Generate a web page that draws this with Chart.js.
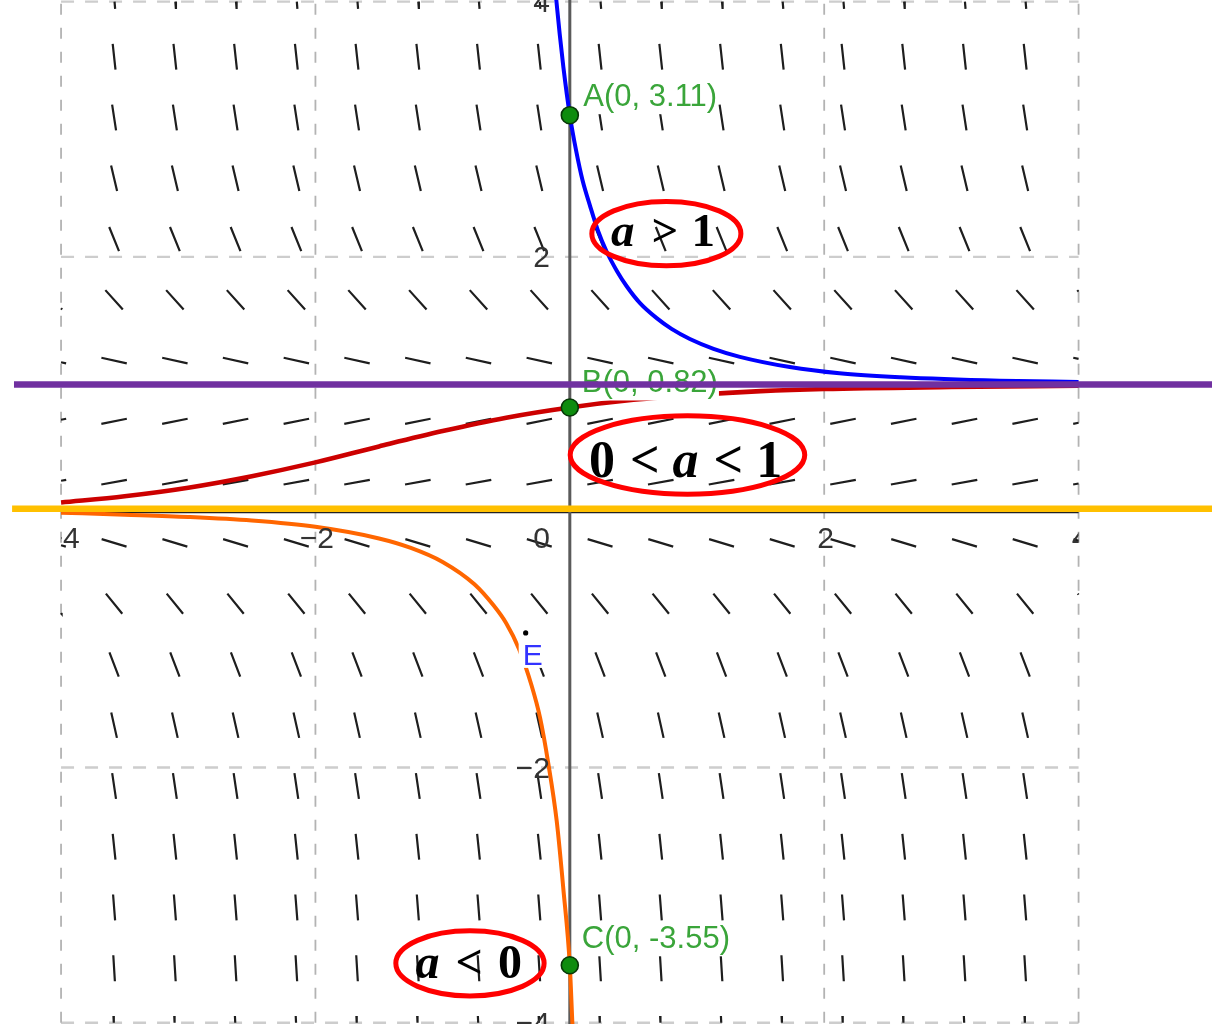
<!DOCTYPE html>
<html>
<head>
<meta charset="utf-8">
<style>
html,body{margin:0;padding:0;background:#ffffff;overflow:hidden;}
#wrap{width:1212px;height:1024px;position:relative;}
canvas{display:block;}
</style>
<script src="https://cdn.jsdelivr.net/npm/chart.js@4.4.1/dist/chart.umd.min.js"></script>
</head>
<body>
<div id="wrap"><canvas id="c" width="1212" height="1024"></canvas></div>
<script>
// ---------------- data ----------------
// slope field: column centres (x), row centres (y) and the slope drawn on each row
const fieldX = [-4.06, -3.583, -3.105, -2.628, -2.15, -1.673, -1.195, -0.718, -0.24,
                0.238, 0.715, 1.193, 1.67, 2.148, 2.625, 3.103, 3.58, 4.058];
const fieldY = [4.044, 3.568, 3.092, 2.616, 2.14, 1.664, 1.188, 0.712, 0.235,
                -0.241, -0.717, -1.193, -1.669, -2.145, -2.621, -3.097, -3.573, -4.049];
const fieldSlope = [-12.3, -9.2, -6.5, -4.2, -2.45, -1.1, -0.22, 0.2, 0.18,
                    -0.3, -1.23, -2.6, -4.45, -6.7, -9.5, -12.7, -16.3, -20.4];

// solution curves
const blueX = [-0.11, -0.08, -0.051, 0.0, 0.05, 0.1, 0.159, 0.22, 0.29, 0.37, 0.447, 0.55, 0.683, 0.8, 0.944,
               1.13, 1.337, 1.73, 2.12, 2.6, 3.38, 4.0];
const blueY = [4.05, 3.75, 3.49, 3.11, 2.83, 2.6, 2.4, 2.21, 2.04, 1.89, 1.77, 1.64, 1.52, 1.436, 1.357,
               1.28, 1.217, 1.137, 1.088, 1.057, 1.03, 1.02];

const redX = [-4.0, -3.5, -3.0, -2.5, -2.0, -1.5, -1.0, -0.5, 0.0, 0.5, 1.0, 1.5, 2.0, 3.0, 4.0];
const redY = [0.076, 0.125, 0.192, 0.282, 0.39, 0.515, 0.635, 0.74, 0.82, 0.88, 0.92, 0.948, 0.965, 0.98, 0.99];

const orangeX = [-4.0, -3.5, -3.0, -2.5, -2.0, -1.5, -1.25, -1.0, -0.75, -0.6, -0.5, -0.4, -0.3, -0.234,
                 -0.169, -0.103, -0.051, 0.0, 0.02, 0.026];
const orangeY = [-0.004, -0.02, -0.038, -0.066, -0.115, -0.206, -0.28, -0.39, -0.565, -0.73, -0.87, -1.07,
                 -1.36, -1.61, -1.97, -2.42, -2.95, -3.55, -4.0, -4.12];

// named points
const pointNames = ['A', 'B', 'C'];
const pointX = [0, 0, 0];
const pointY = [3.11, 0.82, -3.55];
const pointEX = [-0.347];
const pointEY = [-0.946];

// horizontal reference lines (purple y = 1, yellow y = 0)
const purpleLineY = [1.0];
const yellowLineY = [0.027];

// axes / grid
const gridX = [-4, -2, 2, 4];
const gridY = [-4, -2, 2, 4];
const xTickValues = [-4, -2, 0, 2, 4];
const yTickValues = [4, 2, -2, -4];

// annotation texts (red ellipses)
const noteTexts = [
  [['a', true], ['>', false], ['1', false]],
  [['0', false], ['<', false], ['a', true], ['<', false], ['1', false]],
  [['a', true], ['<', false], ['0', false]]
];

// ---------------- layout ----------------
const XMIN = -4.48, XMAX = 5.049, YMIN = -4.01, YMAX = 4.0125;
const W = 1212, H = 1024;
const KX = W / (XMAX - XMIN), KY = H / (YMAX - YMIN);

const notes = [
  {cx: 0.759, cy: 2.182, rx: 0.586, ry: 0.252, size: 47, baseY: 2.085, xs: [0.417, 0.748, 1.05]},
  {cx: 0.925, cy: 0.448, rx: 0.922, ry: 0.307, size: 52, baseY: 0.278, xs: [0.253, 0.589, 0.91, 1.246, 1.568]},
  {cx: -0.785, cy: -3.535, rx: 0.583, ry: 0.255, size: 48, baseY: -3.65, xs: [-1.119, -0.792, -0.47]}
];
const labelOffsets = [[13.5, -9], [12, -15], [12, -17]];

function pts(xs, ys) { return xs.map((x, i) => ({x: x, y: ys[i]})); }

// slope-field segments, clipped to the box [-4,4]x[-4,4]
function fieldSegments() {
  const out = [];
  const half = 13; // px
  fieldY.forEach((y0, r) => {
    const m = fieldSlope[r];
    const hx = half / Math.sqrt(KX * KX + m * m * KY * KY);
    const hy = m * hx;
    fieldX.forEach(x0 => {
      let t0 = -1, t1 = 1;
      const lim = (p, d) => {
        if (Math.abs(d) < 1e-12) return;
        let a = (-4 - p) / d, b = (4 - p) / d;
        if (a > b) { const t = a; a = b; b = t; }
        t0 = Math.max(t0, a); t1 = Math.min(t1, b);
      };
      lim(x0, hx); lim(y0, hy);
      if (t1 > t0) {
        out.push({x: x0 + t0 * hx, y: y0 + t0 * hy});
        out.push({x: x0 + t1 * hx, y: y0 + t1 * hy});
        out.push({x: x0, y: null});
      }
    });
  });
  return out;
}
function gridVertical() {
  const out = [];
  gridX.forEach(v => { out.push({x: v, y: -4}, {x: v, y: 4}, {x: v, y: null}); });
  return out;
}
function gridHorizontal() {
  const out = [];
  gridY.forEach(v => { out.push({x: -4, y: v}, {x: 4, y: v}, {x: 0, y: null}); });
  return out;
}
function fmt(v) { return v < 0 ? '\u2212' + Math.abs(v) : String(v); }

function drawLabels(chart) {
  const ctx = chart.ctx, sx = chart.scales.x, sy = chart.scales.y;
  const x0 = sx.getPixelForValue(0), y0 = sy.getPixelForValue(0);
  ctx.save();
  ctx.font = '30px "Liberation Sans", Arial, sans-serif';
  ctx.fillStyle = '#333333';
  ctx.textBaseline = 'alphabetic';
  // x tick labels, clipped to the graphics view
  ctx.save();
  const left = sx.getPixelForValue(-4), right = sx.getPixelForValue(4);
  ctx.beginPath(); ctx.rect(left, 0, right - left, H); ctx.clip();
  ctx.textAlign = 'center';
  xTickValues.forEach(v => { if (v !== 0) ctx.fillText(fmt(v), sx.getPixelForValue(v) + 1.5, y0 + 36); });
  ctx.restore();
  ctx.textAlign = 'right';
  ctx.fillText('0', x0 - 20, y0 + 36);
  yTickValues.forEach(v => ctx.fillText(fmt(v), x0 - 20, sy.getPixelForValue(v) + 10.5));

  // point labels with white background
  ctx.font = '31px "Liberation Sans", Arial, sans-serif';
  ctx.textAlign = 'left';
  pointNames.forEach((n, i) => {
    const px = sx.getPixelForValue(pointX[i]), py = sy.getPixelForValue(pointY[i]);
    const txt = n + '(' + pointX[i] + ', ' + pointY[i] + ')';
    const tx = px + labelOffsets[i][0], ty = py + labelOffsets[i][1];
    const w = ctx.measureText(txt).width;
    ctx.fillStyle = '#ffffff';
    ctx.fillRect(tx - 1, ty - 25, w + 2, 33);
    ctx.fillStyle = '#3aa53a';
    ctx.fillText(txt, tx, ty);
  });
  // point E label
  const ex = sx.getPixelForValue(pointEX[0]), ey = sy.getPixelForValue(pointEY[0]);
  ctx.font = '30px "Liberation Sans", Arial, sans-serif';
  ctx.fillStyle = '#ffffff';
  ctx.fillRect(ex - 7, ey + 8, 24, 27);
  ctx.fillStyle = '#3333ff';
  ctx.fillText('E', ex - 3, ey + 32);
  ctx.restore();
}

function drawNotes(chart) {
  const ctx = chart.ctx, sx = chart.scales.x, sy = chart.scales.y;
  ctx.save();
  notes.forEach((nt, i) => {
    const cx = sx.getPixelForValue(nt.cx), cy = sy.getPixelForValue(nt.cy);
    const rx = nt.rx * KX, ry = nt.ry * KY;
    ctx.beginPath();
    ctx.ellipse(cx, cy, rx, ry, 0, 0, Math.PI * 2);
    ctx.lineWidth = 5;
    ctx.strokeStyle = '#ff0000';
    ctx.stroke();
    ctx.fillStyle = '#000000';
    ctx.textAlign = 'center';
    ctx.textBaseline = 'alphabetic';
    const by = sy.getPixelForValue(nt.baseY);
    noteTexts[i].forEach((tok, j) => {
      ctx.font = (tok[1] ? 'italic bold ' : 'bold ') + nt.size + 'px "Liberation Serif", "Times New Roman", serif';
      ctx.fillText(tok[0], sx.getPixelForValue(nt.xs[j]), by);
    });
  });
  ctx.restore();
}

const overlay = {
  id: 'overlay',
  beforeDatasetDraw(chart, args) {
    if (chart.data.datasets[args.index].labelsBefore) drawLabels(chart);
  },
  afterDatasetsDraw(chart) { drawNotes(chart); }
};

const lineBase = {showLine: true, pointRadius: 0, pointHoverRadius: 0, fill: false, tension: 0};

new Chart(document.getElementById('c'), {
  type: 'scatter',
  data: {
    datasets: [
      Object.assign({}, lineBase, {label: 'grid-v', data: gridVertical(), borderColor: '#b3b3b3', borderWidth: 1.8, borderDash: [11, 13], order: 100}),
      Object.assign({}, lineBase, {label: 'grid-h', data: gridHorizontal(), borderColor: '#cdcdcd', borderWidth: 2.4, borderDash: [13, 11], order: 100}),
      Object.assign({}, lineBase, {label: 'field', data: fieldSegments(), borderColor: '#1e1e1e', borderWidth: 2.2, order: 90}),
      Object.assign({}, lineBase, {label: 'y-axis', data: [{x: 0, y: -4.3}, {x: 0, y: 4.3}], borderColor: '#5a5a5a', borderWidth: 3, order: 80}),
      Object.assign({}, lineBase, {label: 'x-axis', data: [{x: -4, y: 0}, {x: 4, y: 0}], borderColor: '#222222', borderWidth: 2, order: 80}),
      Object.assign({}, lineBase, {label: 'a>1', data: pts(blueX, blueY), borderColor: '#0000ff', borderWidth: 4, cubicInterpolationMode: 'monotone', order: 70}),
      Object.assign({}, lineBase, {label: '0<a<1', data: pts(redX, redY), borderColor: '#cc0000', borderWidth: 4.6, cubicInterpolationMode: 'monotone', order: 70}),
      Object.assign({}, lineBase, {label: 'a<0', data: pts(orangeX, orangeY), borderColor: '#ff6600', borderWidth: 4, cubicInterpolationMode: 'monotone', order: 70}),
      {label: 'points', data: pts(pointX, pointY), showLine: false, pointRadius: 8.5, pointBorderWidth: 1.6,
       pointBackgroundColor: '#0e8c0e', pointBorderColor: '#073807', order: 50},
      {label: 'E', data: pts(pointEX, pointEY), showLine: false, pointRadius: 2.6, pointBorderWidth: 0,
       pointBackgroundColor: '#000000', order: 49},
      Object.assign({}, lineBase, {label: 'yellow', data: [{x: -4.385, y: yellowLineY[0]}, {x: 5.2, y: yellowLineY[0]}], borderColor: '#ffc000', borderWidth: 6.5, order: 20, labelsBefore: true}),
      Object.assign({}, lineBase, {label: 'purple', data: [{x: -4.37, y: purpleLineY[0]}, {x: 5.2, y: purpleLineY[0]}], borderColor: '#7030a0', borderWidth: 6.5, order: 10})
    ]
  },
  options: {
    responsive: false,
    devicePixelRatio: 1,
    animation: false,
    events: [],
    layout: {padding: 0, autoPadding: false},
    plugins: {legend: {display: false}, tooltip: {enabled: false}},
    scales: {
      x: {type: 'linear', min: XMIN, max: XMAX, display: false},
      y: {type: 'linear', min: YMIN, max: YMAX, display: false}
    }
  },
  plugins: [overlay]
});
</script>
</body>
</html>
